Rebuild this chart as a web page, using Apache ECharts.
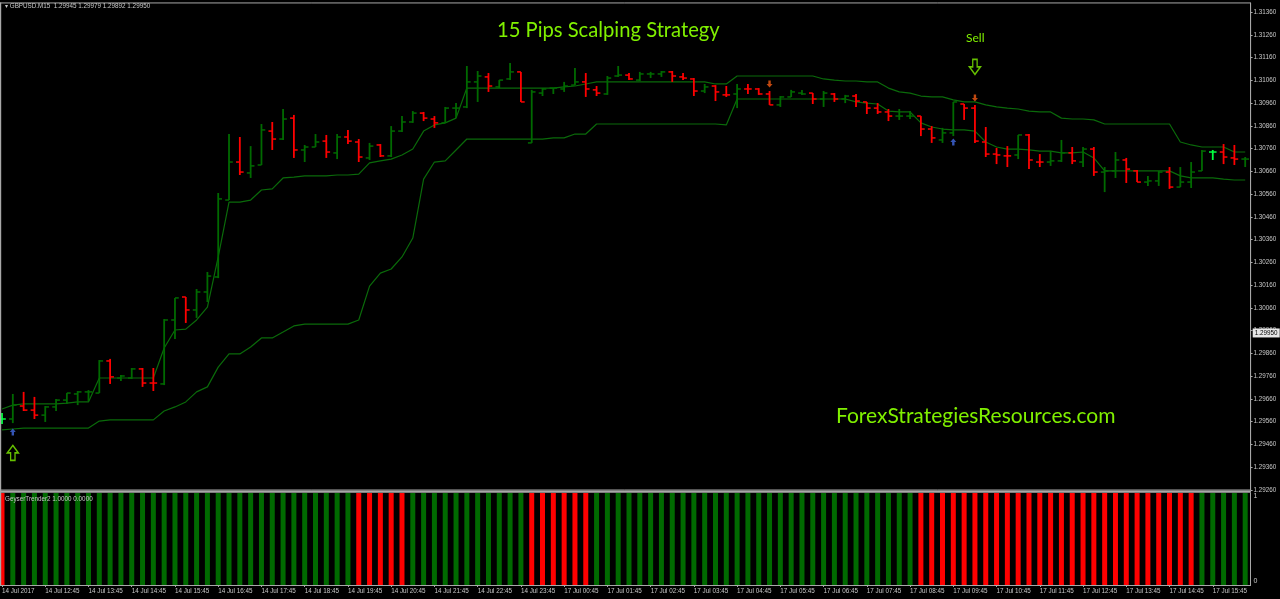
<!DOCTYPE html>
<html><head><meta charset="utf-8">
<style>html,body{margin:0;padding:0;background:#000}#c{width:1280px;height:599px}</style>
<script src="https://cdn.jsdelivr.net/npm/echarts@6/dist/echarts.min.js"></script>
</head><body><div id="c"></div>
<script>
// Prices are held in points (1 point = 0.00001)
const opens=[129572,129572,129629,129611,129589,129625,129655,129682,129691,129686,
129827,129752,129752,129792,129730,129726,130007,130108,130051,130130,
130196,130534,130701,130653,130688,130837,130802,130894,130754,130767,
130793,130741,130811,130789,130719,130776,130728,130837,130877,130916,
130890,130873,130938,130943,131053,131075,131031,131066,131097,130785,
131004,131026,131022,131039,131053,131018,131000,131079,131083,131061,
131088,131088,131097,131075,131066,131013,131035,130996,131000,131022,
131022,131000,130952,130987,131004,131004,130978,131000,130978,130991,
130965,130938,130921,130903,130903,130903,130846,130798,130829,130956,
130938,130789,130736,130728,130732,130820,130701,130701,130706,130741,
130701,130758,130657,130662,130710,130662,130613,130618,130657,130591,
130613,130662,130745,130745,130719,130714];
const highs=[129598,129682,129691,129669,129629,129660,129686,129695,129699,129831,
129836,129765,129796,129796,129796,130011,130104,130108,130143,130218,
130565,130824,130811,130771,130868,130877,130934,130908,130776,130824,
130820,130824,130842,130802,130785,130780,130859,130903,130925,130921,
130903,130943,130960,131123,131101,131092,131061,131136,131097,131018,
131026,131026,131053,131114,131092,131035,131079,131123,131092,131097,
131097,131101,131101,131092,131070,131044,131039,131035,131044,131044,
131026,131013,130991,131018,131018,131004,131013,131004,130996,131000,
130965,130960,130934,130934,130925,130903,130859,130851,130965,130956,
130952,130855,130763,130771,130820,130824,130736,130749,130798,130767,
130767,130767,130679,130745,130719,130666,130640,130662,130679,130679,
130701,130754,130754,130780,130776,130723];
const lows=[129550,129554,129607,129572,129559,129607,129638,129633,129651,129686,
129726,129739,129748,129713,129695,129721,129923,129994,130016,130086,
130191,130534,130644,130631,130688,130754,130798,130719,130701,130767,
130719,130714,130780,130701,130710,130723,130723,130833,130873,130881,
130851,130873,130894,130938,130965,131009,131026,131061,130965,130785,
130991,131000,131009,131039,130987,130991,130996,131075,131061,131057,
131070,131075,131053,131061,130991,131004,130969,130987,130938,131000,
130996,130952,130943,130987,130996,130956,130943,130965,130960,130943,
130912,130912,130881,130886,130890,130815,130785,130785,130815,130886,
130785,130723,130692,130679,130714,130670,130679,130684,130701,130692,
130679,130640,130569,130631,130609,130613,130596,130596,130583,130591,
130587,130662,130710,130692,130688,130679];
const closes=[129572,129633,129611,129589,129625,129655,129686,129691,129691,129827,
129757,129761,129792,129730,129730,130007,130104,130051,130130,130200,
130539,130701,130657,130684,130842,130802,130890,130754,130767,130789,
130745,130811,130793,130723,130771,130728,130837,130877,130916,130894,
130873,130938,130938,131053,131079,131035,131061,131097,130965,131009,
131022,131026,131035,131053,131022,131004,131070,131083,131066,131088,
131088,131097,131079,131070,131013,131031,131009,130996,131022,131022,
131000,130952,130987,131009,131000,130978,131004,130978,130991,130969,
130938,130921,130903,130903,130903,130846,130807,130829,130965,130938,
130793,130736,130732,130728,130820,130710,130701,130706,130741,130706,
130758,130657,130662,130710,130670,130613,130618,130657,130591,130613,
130657,130749,130745,130723,130714,130714];
const redBars=[2,3,10,13,14,17,22,25,27,30,32,33,35,39,40,45,48,54,55,58,62,63,64,66,67,69,70,71,75,77,79,80,81,82,85,86,89,90,91,92,93,95,96,99,101,104,105,108,113,114];
const brightBars=[0,112];
const upperBand=[129616,129633,129638,129638,129638,129638,129642,129647,129647,129752,
129752,129752,129752,129752,129752,129884,129963,129967,130007,130064,
130284,130525,130525,130534,130578,130583,130631,130635,130640,130640,
130640,130644,130644,130648,130697,130706,130714,130732,130758,130837,
130864,130873,130894,131026,131026,131026,131026,131026,131026,131026,
131026,131026,131031,131035,131044,131053,131053,131053,131053,131053,
131053,131053,131053,131053,131053,131053,131044,131044,131079,131079,
131079,131079,131079,131079,131079,131079,131066,131061,131057,131057,
131053,131053,131026,131009,131004,130991,130987,130987,130974,130965,
130965,130952,130943,130938,130934,130925,130921,130921,130894,130890,
130890,130886,130868,130868,130868,130868,130868,130868,130868,130789,
130776,130767,130767,130767,130745,130745];
const lowerBand=[129524,129528,129532,129532,129532,129532,129532,129532,129532,129563,
129568,129568,129568,129568,129568,129607,129625,129647,129691,129713,
129800,129858,129858,129888,129928,129928,129954,129981,129989,129989,
129989,129989,129989,130007,130156,130213,130231,130284,130367,130626,
130701,130706,130754,130802,130802,130802,130802,130802,130802,130802,
130802,130807,130807,130824,130824,130868,130868,130868,130868,130868,
130868,130868,130868,130868,130868,130868,130868,130864,130978,130978,
130978,130978,130978,130978,130978,130978,130978,130978,130978,130965,
130960,130956,130925,130921,130921,130873,130855,130846,130842,130842,
130837,130789,130767,130758,130758,130754,130749,130749,130741,130741,
130745,130719,130662,130662,130662,130662,130662,130662,130662,130640,
130631,130631,130631,130626,130622,130622];
const trendState=[0,1,1,1,1,1,1,1,1,1,1,1,1,1,1,1,1,1,1,1,1,1,1,1,1,1,1,1,1,1,1,1,1,
0,0,0,0,0,
1,1,1,1,1,1,1,1,1,1,1,
0,0,0,0,0,0,
1,1,1,1,1,1,1,1,1,1,1,1,1,1,1,1,1,1,1,1,1,1,1,1,1,1,1,1,1,1,
0,0,0,0,0,0,0,0,0,0,0,0,0,0,0,0,0,0,0,0,0,0,0,0,0,0,
1,1,1,1,1];
const tickLabels=['14 Jul 2017','14 Jul 12:45','14 Jul 13:45','14 Jul 14:45','14 Jul 15:45','14 Jul 16:45','14 Jul 17:45','14 Jul 18:45','14 Jul 19:45','14 Jul 20:45','14 Jul 21:45','14 Jul 22:45','14 Jul 23:45','17 Jul 00:45','17 Jul 01:45','17 Jul 02:45','17 Jul 03:45','17 Jul 04:45','17 Jul 05:45','17 Jul 06:45','17 Jul 07:45','17 Jul 08:45','17 Jul 09:45','17 Jul 10:45','17 Jul 11:45','17 Jul 12:45','17 Jul 13:45','17 Jul 14:45','17 Jul 15:45'];
const buyArrows=[[1,129515],[88,130789]];
const sellArrows=[[71,131044],[90,130982]];
const bigBuyArrow=[[1,129423]];
const bigSellArrow=[[90,131119]];
const currentPrice=129950;
const lastPriceBar=115;

const GREEN='#006a00',RED='#ff0000',BRIGHT='#00ff40',BAND='#0a6a0a',LIME='#80f000',GREY='#c8c8c8',FRAME='#a8a8a8';
const SMALL='Liberation Sans';
const SMALLSIZE=6.3;
const categories=opens.map((_,i)=>String(i));
const ohlc=opens.map((o,i)=>[i,o,highs[i],lows[i],closes[i]]);
const ARROW='path://M50 0L100 50L70 50L70 100L30 100L30 50L0 50Z';
const gridBox={left:-3.4,width:1254,outerBoundsMode:'none'};

function renderBar(params,api){
  const i=api.value(0);
  const x=api.coord([i,api.value(1)])[0];
  const yO=api.coord([i,api.value(1)])[1], yH=api.coord([i,api.value(2)])[1],
        yL=api.coord([i,api.value(3)])[1], yC=api.coord([i,api.value(4)])[1];
  const c=brightBars.includes(i)?BRIGHT:(redBars.includes(i)?RED:GREEN);
  const style={stroke:c,lineWidth:1.8,fill:null};
  return {type:'group',children:[
    {type:'line',shape:{x1:x,y1:yH,x2:x,y2:yL},style},
    {type:'line',shape:{x1:x-3.8,y1:yO,x2:x,y2:yO},style:{stroke:c,lineWidth:1.5}},
    {type:'line',shape:{x1:x,y1:yC,x2:x+3.8,y2:yC},style:{stroke:c,lineWidth:1.5}}
  ]};
}
const chart=echarts.init(document.getElementById('c'),null,{renderer:'canvas'});
chart.setOption({
  animation:false,backgroundColor:'#000',
  title:[
    {text:'▾ GBPUSD.M15  1.29945 1.29979 1.29892 1.29950',left:5,top:3,textStyle:{color:GREY,fontSize:SMALLSIZE,fontWeight:'normal',fontFamily:SMALL},padding:0},
    {text:'GeyserTrender2 1.0000 0.0000',left:5,top:496,z:20,textStyle:{color:GREY,fontSize:SMALLSIZE,fontWeight:'normal',fontFamily:SMALL},padding:0},
    {text:'15 Pips Scalping Strategy',left:497,top:20,textStyle:{color:LIME,fontSize:20.2,fontWeight:'normal',fontFamily:'Lato'},padding:0},
    {text:'Sell',left:966,top:32,textStyle:{color:LIME,fontSize:12,fontWeight:'normal',fontFamily:'Lato'},padding:0},
    {text:'ForexStrategiesResources.com',left:836,top:406,textStyle:{color:LIME,fontSize:21,fontWeight:'normal',fontFamily:'Lato'},padding:0}
  ],
  grid:[
    Object.assign({top:2.94,height:487.06,show:true,borderColor:FRAME,borderWidth:1,backgroundColor:'#000'},gridBox),
    Object.assign({top:493,height:92},gridBox)
  ],
  xAxis:[
    {type:'category',gridIndex:0,data:categories,axisLine:{show:false},axisTick:{show:false},axisLabel:{show:false},splitLine:{show:false}},
    {type:'category',gridIndex:1,data:categories,
     axisLine:{lineStyle:{color:FRAME,width:1}},
     axisTick:{show:true,alignWithLabel:true,interval:3,length:2,lineStyle:{color:FRAME}},
     axisLabel:{interval:3,color:GREY,fontSize:SMALLSIZE,fontFamily:SMALL,margin:3,align:'left',hideOverlap:false,
       formatter:(v,i)=>tickLabels[i/4]||''},splitLine:{show:false}}
  ],
  yAxis:[
    {type:'value',gridIndex:0,position:'right',min:129260,max:131400,interval:100,scale:true,
     axisLine:{show:true,lineStyle:{color:FRAME,width:1}},
     axisTick:{show:true,length:2,lineStyle:{color:FRAME}},
     axisLabel:{color:GREY,fontSize:SMALLSIZE,fontFamily:SMALL,margin:3,showMaxLabel:false,formatter:v=>(v/100000).toFixed(5)},
     splitLine:{show:false}},
    {type:'value',gridIndex:1,position:'right',min:0,max:1,interval:1,
     axisLine:{show:true,lineStyle:{color:FRAME,width:1}},
     axisTick:{show:false},
     axisLabel:{color:GREY,fontSize:SMALLSIZE+0.7,fontFamily:SMALL,margin:3,verticalAlignMaxLabel:'top',verticalAlignMinLabel:'bottom'},
     splitLine:{show:false}}
  ],
  graphic:[
    {type:'rect',shape:{x:0,y:2.5,width:1.2,height:583},style:{fill:FRAME},z:50},
    {type:'rect',shape:{x:0,y:490.5,width:1251,height:2.2},style:{fill:FRAME},z:50}
  ],
  series:[
    {type:'bar',name:'GeyserUp',xAxisIndex:1,yAxisIndex:1,barWidth:5,barGap:'-100%',itemStyle:{color:GREEN},data:trendState.map(s=>s),z:2},
    {type:'bar',name:'GeyserDown',xAxisIndex:1,yAxisIndex:1,barWidth:5,barGap:'-100%',itemStyle:{color:RED},data:trendState.map(s=>1-s),z:2},
    {type:'line',name:'Upper',xAxisIndex:0,yAxisIndex:0,data:upperBand,symbol:'none',lineStyle:{color:BAND,width:1.2},z:3},
    {type:'line',name:'Lower',xAxisIndex:0,yAxisIndex:0,data:lowerBand,symbol:'none',lineStyle:{color:BAND,width:1.2},z:3},
    {type:'custom',name:'GBPUSD',xAxisIndex:0,yAxisIndex:0,data:ohlc,encode:{x:0,y:[1,2,3,4]},renderItem:renderBar,z:4,clip:true},
    {type:'scatter',name:'Buy',xAxisIndex:0,yAxisIndex:0,data:buyArrows,symbol:ARROW,symbolSize:[6,7],itemStyle:{color:'#4169e1'},z:5},
    {type:'scatter',name:'Sell',xAxisIndex:0,yAxisIndex:0,data:sellArrows,symbol:ARROW,symbolRotate:180,symbolSize:[6,7],itemStyle:{color:'#f05a14'},z:5},
    {type:'scatter',name:'Entry',xAxisIndex:0,yAxisIndex:0,data:bigBuyArrow,symbol:ARROW,symbolSize:[11,15],itemStyle:{color:'transparent',borderColor:LIME,borderWidth:1.5},z:5},
    {type:'scatter',name:'Exit',xAxisIndex:0,yAxisIndex:0,data:bigSellArrow,symbol:ARROW,symbolRotate:180,symbolSize:[11,15],itemStyle:{color:'transparent',borderColor:LIME,borderWidth:1.5},z:5,
     markPoint:{silent:true,symbol:'rect',symbolSize:[27,9],symbolOffset:[21,0],itemStyle:{color:'#e8e8e8'},
       label:{show:true,position:'inside',color:'#000',fontSize:SMALLSIZE,fontFamily:SMALL,formatter:()=>(currentPrice/100000).toFixed(5)},
       data:[{coord:[lastPriceBar,currentPrice]}]}}
  ]
});
</script></body></html>
